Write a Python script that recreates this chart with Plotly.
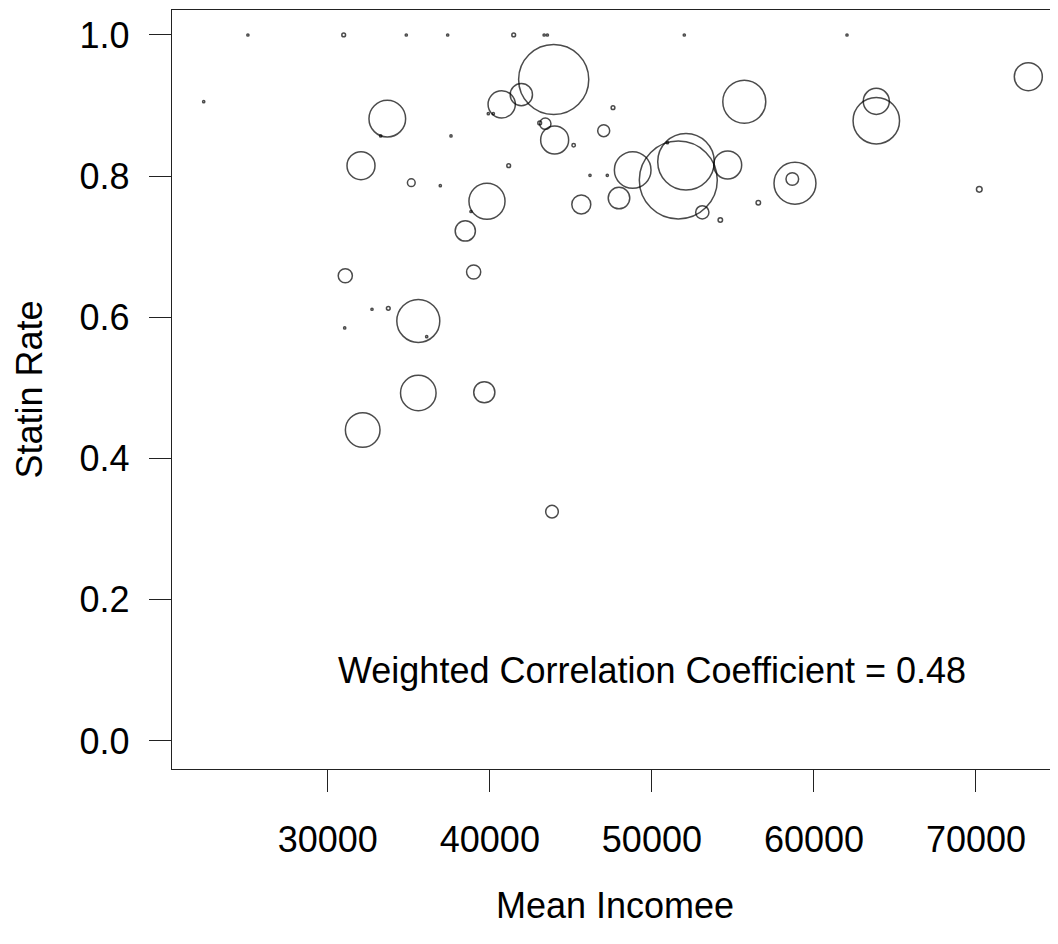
import math
import plotly.graph_objects as go

# Mean income per practice group
income = [25070, 30981, 34844, 37398, 41472, 43350, 43550, 52000, 62040, 22342,
          43940, 41944, 40732, 39906, 40215, 33672, 33264, 37603, 43423, 43077,
          43999, 45172, 47600, 47026, 32049, 41163, 46181, 47248, 35153, 36943,
          39824, 38837, 38485, 45644, 73229, 55702, 63848, 63848, 48816, 52105,
          51630, 54677, 50960, 47970, 53111, 54222, 56567, 58830, 58665, 70204,
          31080, 39000, 32728, 33734, 31043, 35585, 36103, 35585, 39658, 32154,
          43836]
# Statin rate
statin_rate = [1.000, 1.000, 1.000, 1.000, 1.000, 1.000, 1.000, 1.000, 1.000, 0.9055,
               0.937, 0.9155, 0.9018, 0.8885, 0.8885, 0.8815, 0.857, 0.857, 0.8744, 0.8755,
               0.8513, 0.8437, 0.897, 0.8645, 0.8149, 0.8149, 0.8012, 0.8012, 0.7908, 0.7866,
               0.7645, 0.750, 0.7224, 0.760, 0.941, 0.9055, 0.906, 0.8786, 0.8088, 0.8205,
               0.7946, 0.8159, 0.8475, 0.769, 0.7488, 0.738, 0.7625, 0.790, 0.796, 0.7814,
               0.659, 0.6643, 0.6115, 0.6128, 0.585, 0.595, 0.5727, 0.4929, 0.4939, 0.4405,
               0.3248]
# Weight (group size) for each point
weight = [1.2, 3.5, 1.2, 1.2, 3.5, 1.2, 1.2, 1.2, 1.2, 1.2,
          1230, 124, 186, 1.2, 1.2, 336, 1.2, 1.2, 32, 3.5,
          196, 3, 3.5, 36, 196, 3.5, 1.2, 1.2, 15, 1.2,
          325, 1.2, 102, 90, 196, 462, 170, 540, 336, 800,
          1520, 196, 1.2, 116, 44, 5, 5, 440, 40, 8,
          50, 50, 1.2, 3.5, 1.2, 462, 1.2, 316, 112, 300,
          40]

x_ticks = [30000, 40000, 50000, 60000, 70000]
y_ticks = [0.0, 0.2, 0.4, 0.6, 0.8, 1.0]
y_tick_text = ["0.0", "0.2", "0.4", "0.6", "0.8", "1.0"]

FONT = "Liberation Sans, Arial, Helvetica, sans-serif"
FS = 36

sizes = [2 * math.sqrt(w) for w in weight]

fig = go.Figure()
fig.add_trace(go.Scatter(
    x=income, y=statin_rate, mode="markers",
    marker=dict(symbol="circle", size=sizes, sizemode="diameter",
                color="rgba(0,0,0,0)", line=dict(color="black", width=1.5)),
    hoverinfo="x+y", showlegend=False,
))

fig.add_annotation(x=50000, y=0.1, xref="x", yref="y",
                   text="Weighted Correlation Coefficient = 0.48",
                   showarrow=False, font=dict(family=FONT, size=FS, color="black"),
                   xanchor="center", yanchor="middle")

fig.add_annotation(x=0.5, y=-0.1792, xref="paper", yref="paper",
                   text="Mean Incomee", showarrow=False,
                   font=dict(family=FONT, size=FS, color="black"),
                   xanchor="center", yanchor="middle")
fig.add_annotation(x=-0.1603, y=0.5, xref="paper", yref="paper",
                   text="Statin Rate", showarrow=False, textangle=-90,
                   font=dict(family=FONT, size=FS, color="black"),
                   xanchor="center", yanchor="middle")

fig.update_layout(
    width=1050, height=920,
    margin=dict(l=164, r=0, t=2, b=159),
    paper_bgcolor="white", plot_bgcolor="white",
    font=dict(family=FONT, size=FS, color="black"),
    xaxis=dict(range=[20386, 75061], tickvals=x_ticks, ticktext=[str(v) for v in x_ticks],
               ticks="outside", ticklen=22, tickwidth=1, tickcolor="#222",
               showline=True, linecolor="#222", linewidth=1.3, mirror=True,
               showgrid=False, zeroline=False, ticklabelstandoff=17,
               tickfont=dict(family=FONT, size=FS, color="black")),
    yaxis=dict(range=[-0.0397, 1.0354], tickvals=y_ticks, ticktext=y_tick_text,
               ticks="outside", ticklen=22, tickwidth=1, tickcolor="#222",
               showline=True, linecolor="#222", linewidth=1.3, mirror=False,
               showgrid=False, zeroline=False, ticklabelstandoff=12,
               tickfont=dict(family=FONT, size=FS, color="black")),
)

fig.write_html("out.html")
